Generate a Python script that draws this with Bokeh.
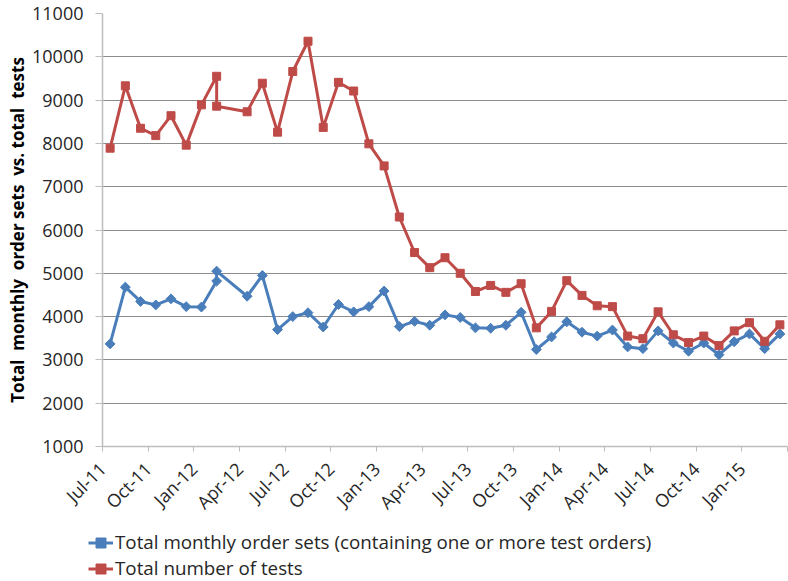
import math
from bokeh.plotting import figure
from bokeh.layouts import column
from bokeh.models import FixedTicker, Legend, LegendItem, Range1d
from bokeh.embed import file_html
from bokeh.resources import INLINE

# ---- data ----
months = ["Jul-11", "Aug-11", "Sep-11", "Oct-11", "Nov-11", "Dec-11", "Jan-12",
          "Feb-12", "Feb-12", "Apr-12", "May-12", "Jun-12", "Jul-12", "Aug-12",
          "Sep-12", "Oct-12", "Nov-12", "Dec-12", "Jan-13", "Feb-13", "Mar-13",
          "Apr-13", "May-13", "Jun-13", "Jul-13", "Aug-13", "Sep-13", "Oct-13",
          "Nov-13", "Dec-13", "Jan-14", "Feb-14", "Mar-14", "Apr-14", "May-14",
          "Jun-14", "Jul-14", "Aug-14", "Sep-14", "Oct-14", "Nov-14", "Dec-14",
          "Jan-15", "Feb-15", "Mar-15"]

order_sets = [3370, 4680, 4350, 4270, 4410, 4230, 4220,
              4820, 5050, 4470, 4950, 3700, 4000, 4090,
              3760, 4280, 4110, 4230, 4590, 3770, 3890,
              3800, 4040, 3980, 3740, 3730, 3800, 4100,
              3240, 3530, 3880, 3640, 3550, 3690, 3300,
              3260, 3670, 3390, 3200, 3390, 3120, 3420,
              3600, 3260, 3600]

total_tests = [7890, 9330, 8350, 8180, 8640, 7960, 8890,
               9550, 8860, 8730, 9390, 8260, 9660, 10360,
               8370, 9410, 9210, 7990, 7480, 6300, 5480,
               5130, 5360, 5000, 4580, 4720, 4560, 4760,
               3740, 4120, 4830, 4490, 4250, 4230, 3550,
               3490, 4110, 3580, 3400, 3550, 3330, 3670,
               3860, 3430, 3810]

tick_labels = ["Jul-11", "Oct-11", "Jan-12", "Apr-12", "Jul-12", "Oct-12",
               "Jan-13", "Apr-13", "Jul-13", "Oct-13", "Jan-14", "Apr-14",
               "Jul-14", "Oct-14", "Jan-15", ""]
y_ticks = [1000, 2000, 3000, 4000, 5000, 6000, 7000, 8000, 9000, 10000, 11000]

series_names = ["Total monthly order sets (containing one or more test orders)",
                "Total number of tests"]
y_title = "Total\u00a0 monthly\u00a0 order sets\u00a0 vs. total\u00a0 tests"

MON = {"Jan": 1, "Feb": 2, "Mar": 3, "Apr": 4, "May": 5, "Jun": 6,
       "Jul": 7, "Aug": 8, "Sep": 9, "Oct": 10, "Nov": 11, "Dec": 12}


def month_pos(lbl):
    m, y = lbl.split("-")
    return (2000 + int(y) - 2011) * 12 + MON[m] - 7 + 0.5


x = [month_pos(m) for m in months]

BLUE = "#4A7EBB"
RED = "#BE4B48"
FONT = "Open Sans"
TXT = "#262626"
AX = "#BDBDBD"

p = figure(width=788, height=529, output_backend="svg", toolbar_location=None,
           x_range=Range1d(0, 45), y_range=Range1d(1000, 11000),
           min_border_left=102, min_border_right=1, min_border_top=13,
           min_border_bottom=83)
p.outline_line_color = None

xa = p.xaxis[0]
xa.ticker = FixedTicker(ticks=list(range(0, 46, 3)))
xa.major_label_overrides = {i * 3: lbl for i, lbl in enumerate(tick_labels)}
xa.major_label_orientation = math.pi / 4
xa.major_label_text_font = FONT
xa.major_label_text_font_size = "18px"
xa.major_label_text_color = TXT
xa.major_tick_in = 0
xa.major_tick_out = 5
xa.minor_tick_out = 0
xa.minor_tick_in = 0
xa.axis_line_color = AX
xa.major_tick_line_color = AX
xa.axis_line_width = 1.5
xa.major_label_standoff = 14

ya = p.yaxis[0]
ya.ticker = FixedTicker(ticks=y_ticks)
ya.major_label_text_font = FONT
ya.major_label_text_font_size = "18px"
ya.major_label_text_color = TXT
ya.major_tick_in = 0
ya.major_tick_out = 7
ya.minor_tick_out = 0
ya.minor_tick_in = 0
ya.axis_line_color = AX
ya.major_tick_line_color = AX
ya.axis_line_width = 1.5
ya.major_label_standoff = 12
ya.axis_label = y_title
ya.axis_label_text_font = FONT
ya.axis_label_text_font_style = "bold"
ya.axis_label_text_font_size = "17px"
ya.axis_label_text_color = "#000000"
ya.axis_label_standoff = 0

p.xgrid.grid_line_color = None
p.ygrid.ticker = FixedTicker(ticks=y_ticks)
p.ygrid.grid_line_color = "#8C8C8C"
p.ygrid.grid_line_width = 1

p.line(x, order_sets, line_color=BLUE, line_width=3, line_join="round")
p.scatter(x, order_sets, marker="square", angle=math.pi / 4, size=7,
          fill_color=BLUE, line_color=BLUE)
p.line(x, total_tests, line_color=RED, line_width=3, line_join="round")
p.scatter(x, total_tests, marker="square", size=8,
          fill_color=RED, line_color=RED)

# ---- legend strip below the chart ----
lg = figure(width=788, height=52, output_backend="svg", toolbar_location=None,
            x_range=Range1d(0, 1), y_range=Range1d(0, 1),
            x_axis_location=None, y_axis_location=None,
            min_border_left=0, min_border_right=0, min_border_top=0,
            min_border_bottom=0)
try:
    lg.frame_align = False
except Exception:
    pass
lg.outline_line_color = None
lg.xgrid.grid_line_color = None
lg.ygrid.grid_line_color = None
# legend swatches (styled like the series; their single point lies off-canvas)
kb = lg.line([-5, -4], [-5, -4], line_color=BLUE, line_width=3)
kbm = lg.scatter([-5], [-5], marker="square", angle=math.pi / 4, size=7,
                 fill_color=BLUE, line_color=BLUE)
kr = lg.line([-5, -4], [-5, -4], line_color=RED, line_width=3)
krm = lg.scatter([-5], [-5], marker="square", size=8,
                 fill_color=RED, line_color=RED)

legend = Legend(items=[LegendItem(label=series_names[0], renderers=[kb, kbm]),
                       LegendItem(label=series_names[1], renderers=[kr, krm])],
                location=(88, 0), orientation="vertical",
                border_line_color=None, background_fill_alpha=0,
                label_text_font=FONT, label_text_font_size="18.8px",
                label_text_color=TXT,
                glyph_width=25, glyph_height=25, label_height=25,
                spacing=0, padding=0, margin=0, label_standoff=2)
lg.add_layout(legend, "center")

layout = column(p, lg, spacing=0)
open("out.html", "w").write(file_html(layout, INLINE))
